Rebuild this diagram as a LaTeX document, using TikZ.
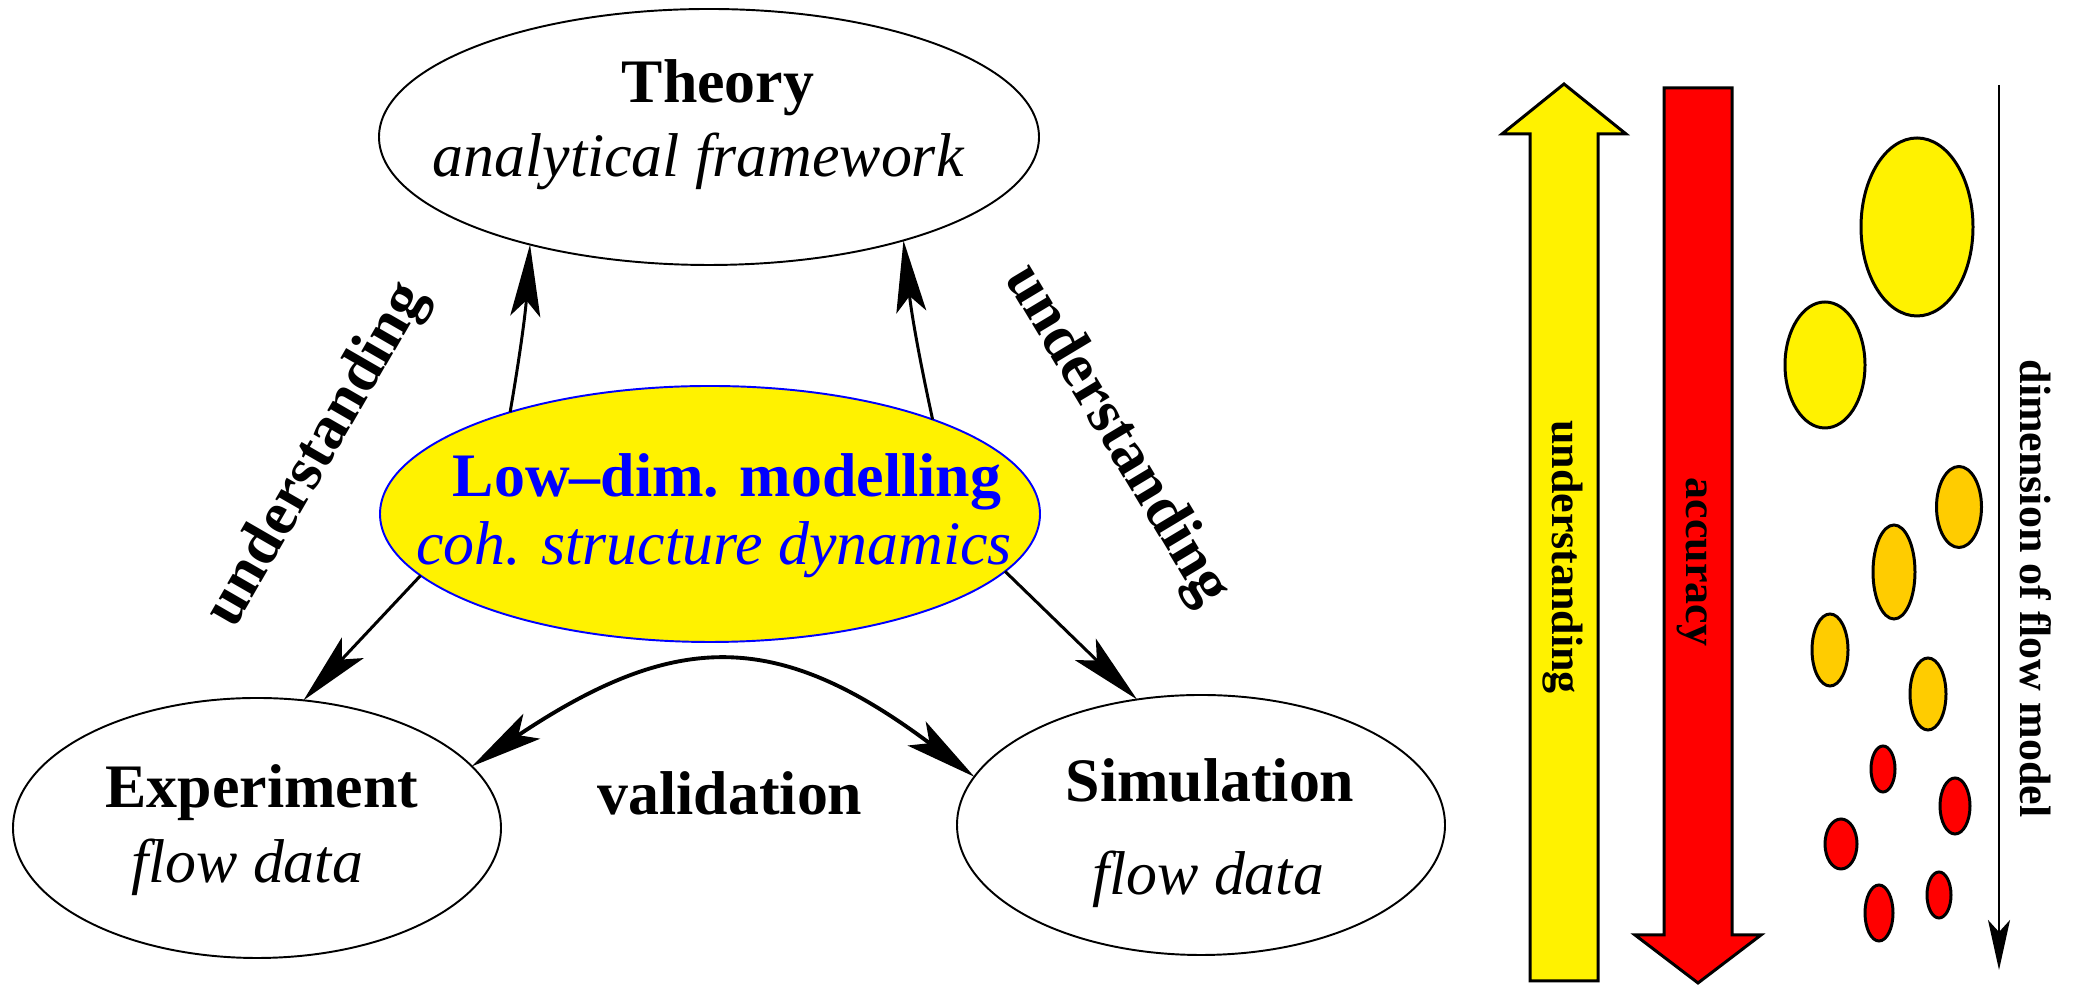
\documentclass[tikz,border=0pt]{standalone}
\usepackage{fontspec}
\setmainfont{Liberation Serif}
\usetikzlibrary{arrows.meta,shapes.geometric}

\definecolor{blobgold}{RGB}{255,204,0}

\begin{document}
\begin{tikzpicture}[
bigoval/.style={ellipse,draw,line width=0.55pt,inner sep=0pt,outer sep=0pt,minimum width=6.6cm,minimum height=2.56cm},
smalloval/.style={ellipse,draw,line width=0.55pt,inner sep=0pt,outer sep=0pt,minimum width=4.88cm,minimum height=2.6cm},
headtext/.style={font=\fontsize{17.6}{21}\selectfont\bfseries,inner sep=0pt,anchor=base},
subtext/.style={font=\fontsize{17.6}{21}\selectfont\itshape,inner sep=0pt,anchor=base},
diagtext/.style={font=\fontsize{17.6}{21}\selectfont\bfseries,inner sep=0pt},
sidetext/.style={font=\fontsize{12.5}{15}\selectfont\bfseries,inner sep=0pt,rotate=-90},
arrow/.style={-{Stealth[length=7.2mm,width=3mm,inset=1.6mm]},line width=0.85pt},
biarrow/.style={{Stealth[length=7.2mm,width=3mm,inset=1.6mm]}-{Stealth[length=7.2mm,width=3mm,inset=1.6mm]},line width=1.1pt},
dimarrow/.style={-{Stealth[length=5mm,width=2.2mm,inset=1.2mm]},line width=0.6pt},
blob/.style={draw,line width=0.85pt}
]

\useasboundingbox (0,0) rectangle (20.75,9.85);

% the four ovals
\node[bigoval] (theory) at (7.09,8.48) {};
\node[bigoval,draw=blue,fill=yellow] (low) at (7.10,4.71) {};
\node[smalloval] (exp) at (2.57,1.57) {};
\node[smalloval] (sim) at (12.01,1.60) {};

\node[headtext] (theoryhead) at (7.18,8.82) {Theory};
\node[subtext] (theorysub) at (6.98,8.08) {analytical framework};

\node[headtext,text=blue] (lowhead) at (7.27,4.88) {Low\textendash dim. modelling};
\node[subtext,text=blue] (lowsub) at (7.14,4.20) {coh. structure dynamics};

\node[headtext] (exphead) at (2.62,1.77) {Experiment};
\node[subtext] (expsub) at (2.47,1.02) {flow data};

\node[headtext] (simhead) at (12.10,1.83) {Simulation};
\node[subtext] (simsub) at (12.08,0.90) {flow data};

% arrows between the ovals
\draw[arrow] (low.153.8) to[bend right=3] (theory.211);
\draw[arrow] (low.23.4) to[bend left=3] (theory.332);
\draw[arrow] (low.192.4) -- (exp.70.9);
\draw[arrow] (low.349.9) -- (sim.117.5);
\draw[biarrow] (exp.16) .. controls (6.76,3.555) and (7.78,3.555) .. (sim.168);

\node[diagtext,rotate=60] (underleft) at (3.18,5.30) {understanding};
\node[diagtext,rotate=-59] (underright) at (11.16,5.49) {understanding};
\node[headtext] (valid) at (7.30,1.70) {validation};

% big arrows on the right
\draw[fill=yellow,line width=0.85pt] (15.30,0.04) -- (15.30,8.51) -- (15.02,8.51) -- (15.64,9.01)
  -- (16.26,8.51) -- (15.98,8.51) -- (15.98,0.04) -- cycle;
\draw[fill=red,line width=0.85pt] (16.64,8.97) -- (17.32,8.97) -- (17.32,0.50) -- (17.61,0.50)
  -- (16.98,0.02) -- (16.35,0.50) -- (16.64,0.50) -- cycle;

\node[sidetext] (understand) at (15.63,4.28) {understanding};
\node[sidetext] (accuracy) at (16.925,4.23) {accuracy};

% structures
\draw[blob,fill=yellow] (19.17,7.58) ellipse (0.56 and 0.89);
\draw[blob,fill=yellow] (18.25,6.20) ellipse (0.40 and 0.63);
\draw[blob,fill=blobgold] (19.59,4.78) ellipse (0.225 and 0.405);
\draw[blob,fill=blobgold] (18.94,4.13) ellipse (0.21 and 0.47);
\draw[blob,fill=blobgold] (18.30,3.35) ellipse (0.18 and 0.36);
\draw[blob,fill=blobgold] (19.28,2.91) ellipse (0.18 and 0.36);
\draw[blob,fill=red] (18.83,2.16) ellipse (0.12 and 0.23);
\draw[blob,fill=red] (19.55,1.79) ellipse (0.15 and 0.28);
\draw[blob,fill=red] (18.41,1.41) ellipse (0.16 and 0.25);
\draw[blob,fill=red] (18.79,0.72) ellipse (0.14 and 0.28);
\draw[blob,fill=red] (19.39,0.90) ellipse (0.12 and 0.23);

\coordinate (dimtop) at (19.99,9.00);
\coordinate (dimbot) at (19.99,0.15);
\draw[dimarrow] (dimtop) -- (dimbot);
\node[sidetext] (dimension) at (20.36,3.965) {dimension of flow model};

\end{tikzpicture}
\end{document}
